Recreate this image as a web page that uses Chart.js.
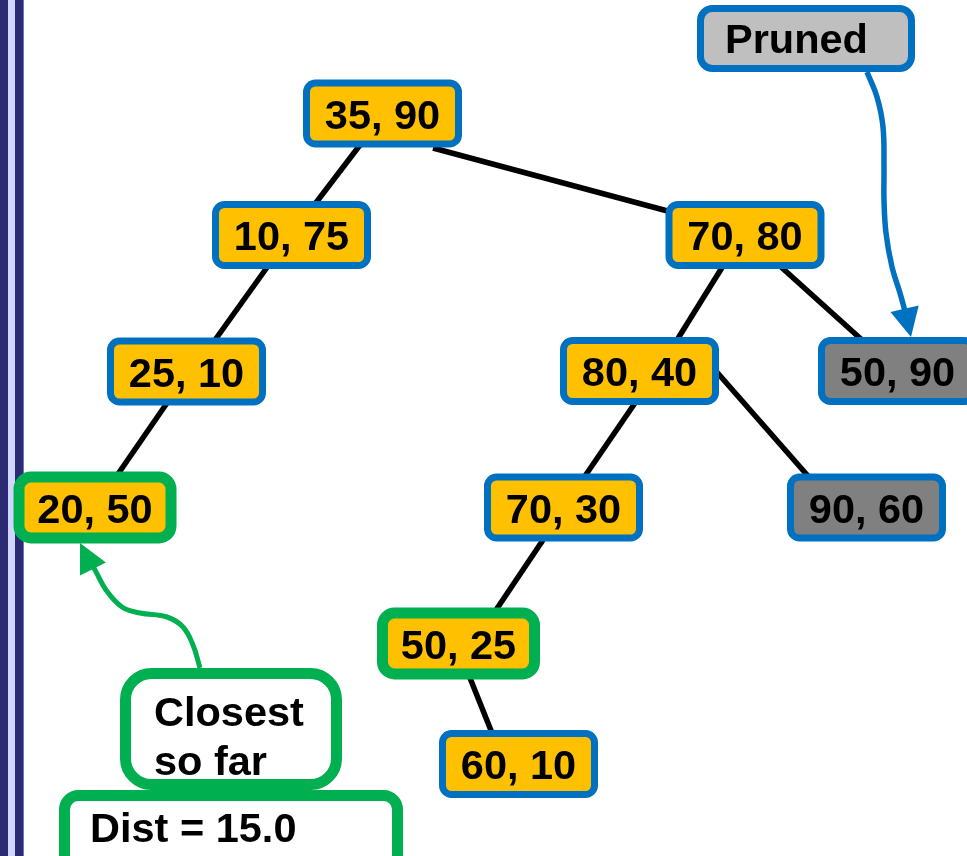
<!DOCTYPE html>
<html>
<head>
<meta charset="utf-8">
<script src="https://cdn.jsdelivr.net/npm/chart.js@4.4.1/dist/chart.umd.min.js"></script>
<style>
  html, body { margin: 0; padding: 0; background: #fff; overflow: hidden; }
  #wrap { width: 967px; height: 856px; position: relative; }
</style>
</head>
<body>
<div id="wrap"><canvas id="myChart"></canvas></div>
<script>
// kd-tree nodes (label, layout position, search state)
var nodeLabels = ['35, 90', '10, 75', '70, 80', '25, 10', '80, 40', '50, 90', '20, 50', '70, 30', '90, 60', '50, 25', '60, 10'];
var nodeX = [382.5, 291.5, 745, 186.5, 639.5, 897.5, 95, 563.5, 866.5, 458.5, 518.5];
var nodeY = [113.5, 235, 235, 371.5, 371, 371, 507.5, 507.5, 507.5, 643.5, 764];
var nodeState = ['open', 'open', 'open', 'open', 'open', 'pruned', 'best', 'open', 'pruned', 'best', 'open'];

// tree edges: [x1, y1, x2, y2]
var edges = [
    [360, 145, 315, 204],
    [433, 148, 675, 213],
    [268, 266, 215, 340],
    [167, 403, 118, 474],
    [723, 266, 677, 340],
    [780, 266, 862, 340],
    [635, 403, 585, 476],
    [715, 370, 808, 476],
    [543, 540, 496, 610],
    [470, 678, 492, 733]
];

// callout arrows (path points, last point is the tip)
var prunedArrowX = [867, 877, 883, 884, 884, 886, 892, 900, 906, 911];
var prunedArrowY = [72, 97, 127, 167, 200, 233, 267, 293, 315, 337];
var closestArrowX = [200, 193, 183, 167, 140, 122, 106, 95, 87, 80];
var closestArrowY = [668, 645, 627, 617, 613, 607, 590, 570, 557, 543];

var prunedText = 'Pruned';
var closestText = ['Closest', 'so far'];
var distText = 'Dist = 15.0';

var BLUE = '#0070C0', GREEN = '#00B050', YELLOW = '#FFC000';
var FONT = "bold 41.5px 'Liberation Sans', Arial, sans-serif";

function toPts(xs, ys) {
    var out = [];
    for (var i = 0; i < xs.length; i++) out.push({ x: xs[i], y: ys[i] });
    return out;
}

var datasets = [];
edges.forEach(function (e) {
    datasets.push({
        type: 'line',
        data: [{ x: e[0], y: e[1] }, { x: e[2], y: e[3] }],
        borderColor: '#000',
        borderWidth: 5.5,
        pointRadius: 0,
        fill: false
    });
});
datasets.push({
    type: 'line',
    data: toPts(prunedArrowX, prunedArrowY).slice(0, -1),
    borderColor: BLUE, borderWidth: 5.5, pointRadius: 0, tension: 0.4, fill: false,
    arrowTip: { x: prunedArrowX[prunedArrowX.length - 1], y: prunedArrowY[prunedArrowY.length - 1] }
});
datasets.push({
    type: 'line',
    data: toPts(closestArrowX, closestArrowY).slice(0, -1),
    borderColor: GREEN, borderWidth: 5, pointRadius: 0, tension: 0.4, fill: false,
    arrowTip: { x: closestArrowX[closestArrowX.length - 1], y: closestArrowY[closestArrowY.length - 1] }
});

/**
 * rounded rectangle path
 */
function rrect(ctx, x, y, w, h, r) {
    ctx.beginPath();
    ctx.moveTo(x + r, y);
    ctx.lineTo(x + w - r, y);
    ctx.arcTo(x + w, y, x + w, y + r, r);
    ctx.lineTo(x + w, y + h - r);
    ctx.arcTo(x + w, y + h, x + w - r, y + h, r);
    ctx.lineTo(x + r, y + h);
    ctx.arcTo(x, y + h, x, y + h - r, r);
    ctx.lineTo(x, y + r);
    ctx.arcTo(x, y, x + r, y, r);
    ctx.closePath();
}

/**
 * box given by its outer edge, border drawn inside it
 */
function box(ctx, x, y, w, h, r, lw, fill, stroke) {
    rrect(ctx, x + lw / 2, y + lw / 2, w - lw, h - lw, r);
    ctx.fillStyle = fill;
    ctx.fill();
    ctx.lineWidth = lw;
    ctx.strokeStyle = stroke;
    ctx.stroke();
}

var frame = {
    id: 'frame',
    beforeDraw: function (chart) {
        var c = chart.ctx;
        c.save();
        c.fillStyle = '#fff';
        c.fillRect(0, 0, chart.width, chart.height);
        c.fillStyle = '#2B2B73'; c.fillRect(0, 0, 8, chart.height);
        c.fillStyle = '#D2D6FC'; c.fillRect(8, 0, 7, chart.height);
        c.fillStyle = '#2B2B73'; c.fillRect(15, 0, 8, chart.height);
        c.fillStyle = '#7474AC'; c.fillRect(23, 0, 1, chart.height);
        c.restore();
    }
};

var boxes = {
    id: 'boxes',
    afterDatasetsDraw: function (chart) {
        var c = chart.ctx, xs = chart.scales.x, ys = chart.scales.y;
        c.save();
        // arrowheads
        chart.data.datasets.forEach(function (ds) {
            if (!ds.arrowTip) return;
            var last = ds.data[ds.data.length - 1];
            var tx = xs.getPixelForValue(ds.arrowTip.x), ty = ys.getPixelForValue(ds.arrowTip.y);
            var bx = xs.getPixelForValue(last.x), by = ys.getPixelForValue(last.y);
            var a = Math.atan2(ty - by, tx - bx);
            var len = 29, half = 14.5;
            c.beginPath();
            c.moveTo(tx, ty);
            c.lineTo(tx - len * Math.cos(a) + half * Math.sin(a), ty - len * Math.sin(a) - half * Math.cos(a));
            c.lineTo(tx - len * Math.cos(a) - half * Math.sin(a), ty - len * Math.sin(a) + half * Math.cos(a));
            c.closePath();
            c.fillStyle = ds.borderColor;
            c.fill();
        });

        c.font = FONT;
        c.textBaseline = 'alphabetic';
        // tree nodes
        for (var i = 0; i < nodeLabels.length; i++) {
            var px = xs.getPixelForValue(nodeX[i]), py = ys.getPixelForValue(nodeY[i]);
            var best = nodeState[i] === 'best';
            var w = best ? 163 : 159, h = best ? 72 : 68;
            var fill = nodeState[i] === 'pruned' ? '#808080' : YELLOW;
            box(c, px - w / 2, py - h / 2, w, h, best ? 12 : 9, best ? 11 : 7, fill, best ? GREEN : BLUE);
            c.fillStyle = '#000';
            c.textAlign = 'center';
            c.fillText(nodeLabels[i], px, py + 15);
        }

        // callout boxes
        c.textAlign = 'left';
        box(c, xs.getPixelForValue(697), ys.getPixelForValue(5), 218, 67, 12, 7, '#BFBFBF', BLUE);
        c.fillStyle = '#000';
        c.fillText(prunedText, xs.getPixelForValue(725), ys.getPixelForValue(53));

        box(c, xs.getPixelForValue(120), ys.getPixelForValue(668), 222, 122, 26, 11, '#fff', GREEN);
        c.fillStyle = '#000';
        c.fillText(closestText[0], xs.getPixelForValue(154), ys.getPixelForValue(726));
        c.fillText(closestText[1], xs.getPixelForValue(154), ys.getPixelForValue(775));

        box(c, xs.getPixelForValue(59), ys.getPixelForValue(790), 344, 90, 14, 11, '#fff', GREEN);
        c.fillStyle = '#000';
        c.fillText(distText, xs.getPixelForValue(90), ys.getPixelForValue(842));
        c.restore();
    }
};

var ctx = document.getElementById('myChart');
var myChart = new Chart(ctx, {
    type: 'scatter',
    data: { datasets: datasets },
    options: {
        responsive: true,
        maintainAspectRatio: false,
        animation: false,
        layout: { padding: 0 },
        clip: false,
        plugins: { legend: { display: false }, tooltip: { enabled: false } },
        scales: {
            x: { type: 'linear', min: 0, max: 967, display: false },
            y: { type: 'linear', min: 0, max: 856, reverse: true, display: false }
        }
    },
    plugins: [frame, boxes]
});
</script>
</body>
</html>
